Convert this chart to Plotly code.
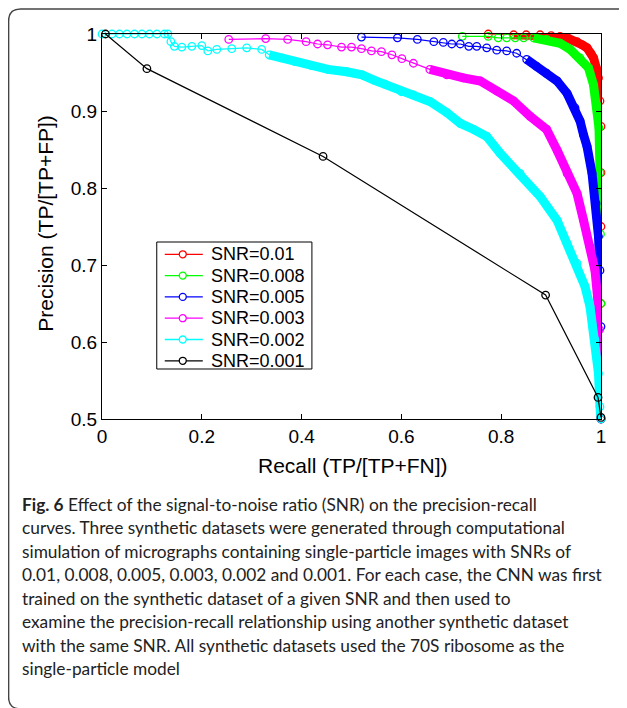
import plotly.graph_objects as go

# precision-recall curves, values
snr_labels = ['SNR=0.01', 'SNR=0.008', 'SNR=0.005', 'SNR=0.003', 'SNR=0.002', 'SNR=0.001']
colors = ['#ff0000', '#00ff00', '#0000ff', '#ff00ff', '#00ffff', '#000000']

recall_001 = [0.774, 0.825, 0.85, 0.878, 0.90, 0.918, 0.935, 0.952, 0.962, 0.972, 0.98, 0.985,
              0.991, 0.995, 0.998, 1.0, 1.0, 1.0, 1.0, 1.0]
precision_001 = [1.0, 0.999, 0.999, 0.999, 0.998, 0.997, 0.994, 0.99, 0.986, 0.982, 0.975, 0.969,
                 0.955, 0.943, 0.913, 0.88, 0.82, 0.75, 0.65, 0.5]

recall_0008 = [0.722, 0.774, 0.794, 0.811, 0.828, 0.845, 0.865, 0.891, 0.918, 0.938, 0.958, 0.975,
               0.985, 0.992, 0.996, 0.998, 0.999, 1.0, 1.0]
precision_0008 = [0.997, 0.997, 0.995, 0.995, 0.995, 0.995, 0.995, 0.993, 0.988, 0.980, 0.969, 0.956,
                  0.934, 0.908, 0.878, 0.82, 0.74, 0.65, 0.5]

recall_0005 = [0.520, 0.592, 0.632, 0.665, 0.684, 0.701, 0.718, 0.735, 0.751, 0.771, 0.791, 0.811,
               0.831, 0.851, 0.871, 0.891, 0.912, 0.932, 0.948, 0.958, 0.965, 0.972, 0.982, 0.990,
               0.995, 0.998, 1.0, 1.0]
precision_0005 = [0.996, 0.995, 0.993, 0.990, 0.989, 0.987, 0.987, 0.984, 0.984, 0.982, 0.979, 0.978,
                  0.975, 0.967, 0.958, 0.949, 0.939, 0.923, 0.904, 0.887, 0.869, 0.854, 0.819, 0.780,
                  0.737, 0.693, 0.62, 0.5]

recall_0003 = [0.254, 0.328, 0.372, 0.409, 0.432, 0.452, 0.480, 0.500, 0.520, 0.540, 0.560, 0.581,
               0.601, 0.624, 0.657, 0.691, 0.724, 0.758, 0.791, 0.825, 0.858, 0.891, 0.912, 0.932,
               0.952, 0.965, 0.978, 0.988, 0.993, 0.997, 1.0]
precision_0003 = [0.993, 0.994, 0.993, 0.990, 0.987, 0.986, 0.983, 0.983, 0.981, 0.978, 0.977, 0.973,
                  0.968, 0.962, 0.954, 0.947, 0.943, 0.939, 0.926, 0.913, 0.893, 0.876, 0.849, 0.819,
                  0.793, 0.758, 0.724, 0.693, 0.659, 0.616, 0.5]

recall_0002 = [0.0, 0.02, 0.035, 0.05, 0.065, 0.08, 0.095, 0.11, 0.125, 0.132, 0.138, 0.145, 0.16,
               0.18, 0.20, 0.212, 0.23, 0.26, 0.29, 0.32, 0.335, 0.36, 0.387, 0.42, 0.453, 0.49,
               0.521, 0.545, 0.567, 0.60, 0.624, 0.658, 0.691, 0.718, 0.745, 0.771, 0.798, 0.838,
               0.878, 0.912, 0.932, 0.952, 0.968, 0.978, 0.988, 0.995, 0.998, 1.0]
precision_0002 = [1.0, 1.0, 1.0, 1.0, 1.0, 1.0, 1.0, 1.0, 1.0, 1.0, 0.99, 0.984, 0.983,
                  0.984, 0.985, 0.978, 0.980, 0.981, 0.982, 0.980, 0.973, 0.969, 0.964, 0.959, 0.954, 0.951,
                  0.947, 0.940, 0.935, 0.925, 0.921, 0.912, 0.898, 0.884, 0.876, 0.867, 0.845, 0.819,
                  0.789, 0.758, 0.728, 0.702, 0.672, 0.646, 0.603, 0.559, 0.516, 0.5]

recall_0001 = [0.007, 0.090, 0.443, 0.889, 0.994, 1.0]
precision_0001 = [1.0, 0.955, 0.841, 0.661, 0.528, 0.502]

recalls = [recall_001, recall_0008, recall_0005, recall_0003, recall_0002, recall_0001]
precisions = [precision_001, precision_0008, precision_0005, precision_0003, precision_0002, precision_0001]
# where the markers pile up into a solid band (start, end index)
dense = [(1, 17), (6, 16), (13, 26), (14, 30), (20, 47), None]

x_ticks = [0, 0.2, 0.4, 0.6, 0.8, 1]
y_ticks = [0.5, 0.6, 0.7, 0.8, 0.9, 1]

caption = [
    '<b>Fig. 6</b> Effect of the signal-to-noise ratio (SNR) on the precision-recall',
    'curves. Three synthetic datasets were generated through computational',
    'simulation of micrographs containing single-particle images with SNRs of',
    '0.01, 0.008, 0.005, 0.003, 0.002 and 0.001. For each case, the CNN was first',
    'trained on the synthetic dataset of a given SNR and then used to',
    'examine the precision-recall relationship using another synthetic dataset',
    'with the same SNR. All synthetic datasets used the 70S ribosome as the',
    'single-particle model',
]

W, H = 627, 708
S = 8  # page body margin, positions below are in screenshot pixels
X0, X1, Y0, Y1 = 102.3 - S, 600.8 - S, 34 - S, 419 - S


def px(x):
    return (x - S - X0) / (X1 - X0)


def py(y):
    return (Y1 - (y - S)) / (Y1 - Y0)


fig = go.Figure()

for name, color, xs, ys, band in zip(snr_labels, colors, recalls, precisions, dense):
    fig.add_trace(go.Scatter(
        x=xs, y=ys, name=name, mode='lines+markers',
        line=dict(color=color, width=1.2),
        marker=dict(symbol='circle-open', size=7.5, color=color, line=dict(width=1.3)),
        cliponaxis=False, showlegend=False,
    ))
    if band:
        a, b = band
        fig.add_trace(go.Scatter(
            x=xs[a:b + 1], y=ys[a:b + 1], mode='lines',
            line=dict(color=color, width=9),
            showlegend=False, hoverinfo='skip',
        ))

axis_common = dict(
    showline=True, linecolor='black', linewidth=1.2, mirror='ticks',
    ticks='inside', ticklen=5, tickcolor='black', showgrid=False, zeroline=False,
    tickfont=dict(family='Liberation Sans, Arial', size=19, color='black'),
)

fig.update_xaxes(range=[0, 1], tickvals=x_ticks, ticktext=[f'{v:g}' for v in x_ticks], **axis_common)
fig.update_yaxes(range=[0.5, 1], tickvals=y_ticks, ticktext=[f'{v:g}' for v in y_ticks], **axis_common)

title_font = dict(family='Liberation Sans, Arial', size=21, color='black')
annotations = [
    dict(text='Recall (TP/[TP+FN])', x=px(353), y=py(465), xref='paper', yref='paper',
         xanchor='center', yanchor='middle', showarrow=False, font=title_font),
    dict(text='Precision (TP/[TP+FP])', x=px(45), y=py(224), xref='paper', yref='paper',
         xanchor='center', yanchor='middle', textangle=-90, showarrow=False, font=title_font),
]
for i, line in enumerate(caption):
    annotations.append(dict(
        text=line, x=px(20), y=py(504 + i * 23.5), xref='paper', yref='paper',
        xanchor='left', yanchor='middle', showarrow=False,
        font=dict(family='Lato, Open Sans', size=17.3, color='#222222'),
    ))

shapes = []

# legend box drawn by hand (row spacing of the original is tighter than plotly's)
shapes.append(dict(type='rect', xref='paper', yref='paper',
                   x0=px(157), x1=px(312), y0=py(242), y1=py(369),
                   line=dict(color='black', width=1), fillcolor='white', layer='above'))
for i, (name, color) in enumerate(zip(snr_labels, colors)):
    yc = 254.3 + i * 21.3
    shapes.append(dict(type='line', xref='paper', yref='paper',
                       x0=px(165), x1=px(203), y0=py(yc), y1=py(yc),
                       line=dict(color=color, width=1.3), layer='above'))
    shapes.append(dict(type='circle', xref='paper', yref='paper',
                       x0=px(179.5), x1=px(186.5), y0=py(yc - 3.5), y1=py(yc + 3.5),
                       line=dict(color=color, width=1.3), fillcolor='white', layer='above'))
    annotations.append(dict(text=name, x=px(209), y=py(yc), xref='paper', yref='paper',
                            xanchor='left', yanchor='middle', showarrow=False,
                            font=dict(family='Liberation Sans, Arial', size=18, color='black')))

# rounded frame around figure and caption
r = 12
frame = (f'M {px(650)},{py(9)} L {px(9 + r)},{py(9)} Q {px(9)},{py(9)} {px(9)},{py(9 + r)} '
         f'L {px(9)},{py(709 - r)} Q {px(9)},{py(709)} {px(9 + r)},{py(709)} L {px(650)},{py(709)}')
shapes.append(dict(type='path', path=frame, xref='paper', yref='paper',
                   line=dict(color='#444444', width=1.5)))

fig.update_layout(
    width=W, height=H,
    margin=dict(l=X0, r=W - X1, t=Y0, b=H - Y1, autoexpand=False),
    plot_bgcolor='white', paper_bgcolor='white',
    showlegend=False,
    annotations=annotations,
    shapes=shapes,
)

fig.write_html('out.html')
